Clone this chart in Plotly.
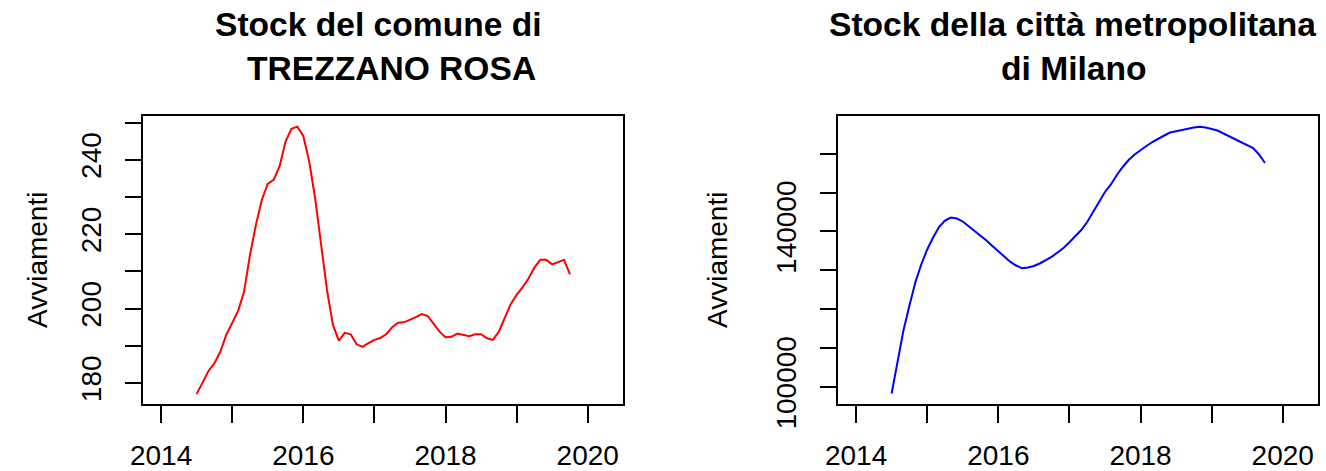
import pandas as pd
import plotly.graph_objects as go

# ---- data ----
months = pd.period_range("2014-07", "2019-10", freq="M")
years = [p.year + (p.month - 1) / 12 for p in months]

comune_values = [177.0, 180.3, 183.2, 185.3, 188.4, 192.9, 196.0, 199.4, 204.5, 214.4,
                 222.5, 229.2, 233.5, 234.6, 238.3, 244.9, 248.3, 248.9, 246.4, 239.5,
                 229.6, 216.6, 205.0, 195.6, 191.4, 193.5, 193.1, 190.4, 189.7, 190.7,
                 191.6, 192.1, 193.1, 195.0, 196.2, 196.3, 196.9, 197.7, 198.5, 198.0,
                 195.9, 193.8, 192.3, 192.4, 193.3, 193.0, 192.6, 193.1, 193.1, 192.0,
                 191.6, 193.8, 197.4, 201.2, 203.7, 205.7, 208.1, 211.0, 213.1, 213.1,
                 211.9, 212.5, 213.1, 209.2]

metro_values = [98330, 106430, 114580, 120900, 126910, 131490, 135350, 138430, 141130, 142800,
                143570, 143310, 142550, 141310, 140150, 139020, 137660, 136250, 134830, 133420,
                132210, 131230, 130510, 130720, 131100, 131750, 132520, 133470, 134580, 135730,
                137200, 138740, 140360, 142420, 144990, 147690, 150130, 152060, 154500, 156560,
                158350, 159770, 160930, 161950, 162980, 163880, 164650, 165420, 165810, 166070,
                166400, 166710, 166920, 166710, 166320, 165940, 165170, 164400, 163620, 162980,
                162290, 161440, 159770, 157580]

x_tickvals = [2014, 2015, 2016, 2017, 2018, 2019, 2020]
x_ticktext = ["2014", "", "2016", "", "2018", "", "2020"]
y1_tickvals = [180, 190, 200, 210, 220, 230, 240, 250]
y1_ticktext = ["180", "", "200", "", "220", "", "240", ""]
y2_tickvals = [100000, 110000, 120000, 130000, 140000, 150000, 160000]
y2_ticktext = ["100000", "", "", "", "140000", "", ""]

title_left = ["Stock del comune di", "TREZZANO ROSA"]
title_right = ["Stock della città metropolitana", "di Milano"]
ylabel = "Avviamenti"

# ---- figure ----
W, H = 1326, 471
FONT = "Liberation Sans, Arial, Helvetica, sans-serif"

fig = go.Figure()
fig.add_trace(go.Scatter(x=years, y=comune_values, mode="lines",
                         line=dict(color="#FF0000", width=2), xaxis="x", yaxis="y",
                         showlegend=False))
fig.add_trace(go.Scatter(x=years, y=metro_values, mode="lines",
                         line=dict(color="#0000FF", width=2), xaxis="x2", yaxis="y2",
                         showlegend=False))

def px_x(p):
    return p / W

def px_y(p):
    return 1 - p / H

common_axis = dict(showgrid=False, zeroline=False, showline=True, mirror=True,
                   linecolor="black", linewidth=1.5, ticks="outside", ticklen=17,
                   tickwidth=1.5, tickcolor="black", automargin=False,
                   tickfont=dict(family=FONT, size=28, color="black"))

ydom = [px_y(404.3), px_y(115.7)]

fig.update_layout(
    template="none",
    width=W, height=H, autosize=False,
    margin=dict(l=0, r=0, t=0, b=0, pad=0),
    paper_bgcolor="white", plot_bgcolor="white",
    xaxis=dict(domain=[px_x(143.3), px_x(623.3)], range=[2013.75, 2020.5],
               tickmode="array", tickvals=x_tickvals, ticktext=x_ticktext,
               anchor="y", ticklabelstandoff=8, **common_axis),
    yaxis=dict(domain=ydom, range=[174.27, 251.85],
               tickmode="array", tickvals=y1_tickvals, ticktext=y1_ticktext,
               tickangle=-90, anchor="x", ticklabelstandoff=12, **common_axis),
    xaxis2=dict(domain=[px_x(838.3), px_x(1318.3)], range=[2013.75, 2020.5],
                tickmode="array", tickvals=x_tickvals, ticktext=x_ticktext,
                anchor="y2", ticklabelstandoff=8, **common_axis),
    yaxis2=dict(domain=ydom, range=[95553, 169743],
                tickmode="array", tickvals=y2_tickvals, ticktext=y2_ticktext,
                tickangle=-90, anchor="x2", ticklabelstandoff=12, **common_axis),
)

title_font = dict(family=FONT, size=33.6, color="black")
anns = []
for txt, cx, cy in [(title_left[0], 378, 25), (title_left[1], 391.7, 69),
                    (title_right[0], 1072, 25), (title_right[1], 1073.7, 69)]:
    anns.append(dict(text="<b>%s</b>" % txt, x=px_x(cx), y=px_y(cy), xref="paper", yref="paper",
                     xanchor="center", yanchor="middle", showarrow=False, font=title_font))
for cx in (37, 717):
    anns.append(dict(text=ylabel, x=px_x(cx), y=px_y(260), xref="paper", yref="paper",
                     xanchor="center", yanchor="middle", showarrow=False, textangle=-90,
                     font=dict(family=FONT, size=28, color="black")))
fig.update_layout(annotations=anns)

fig.write_html("out.html", config={"displayModeBar": False},
               post_script="document.body.style.margin='0';document.body.style.overflow='hidden';")
